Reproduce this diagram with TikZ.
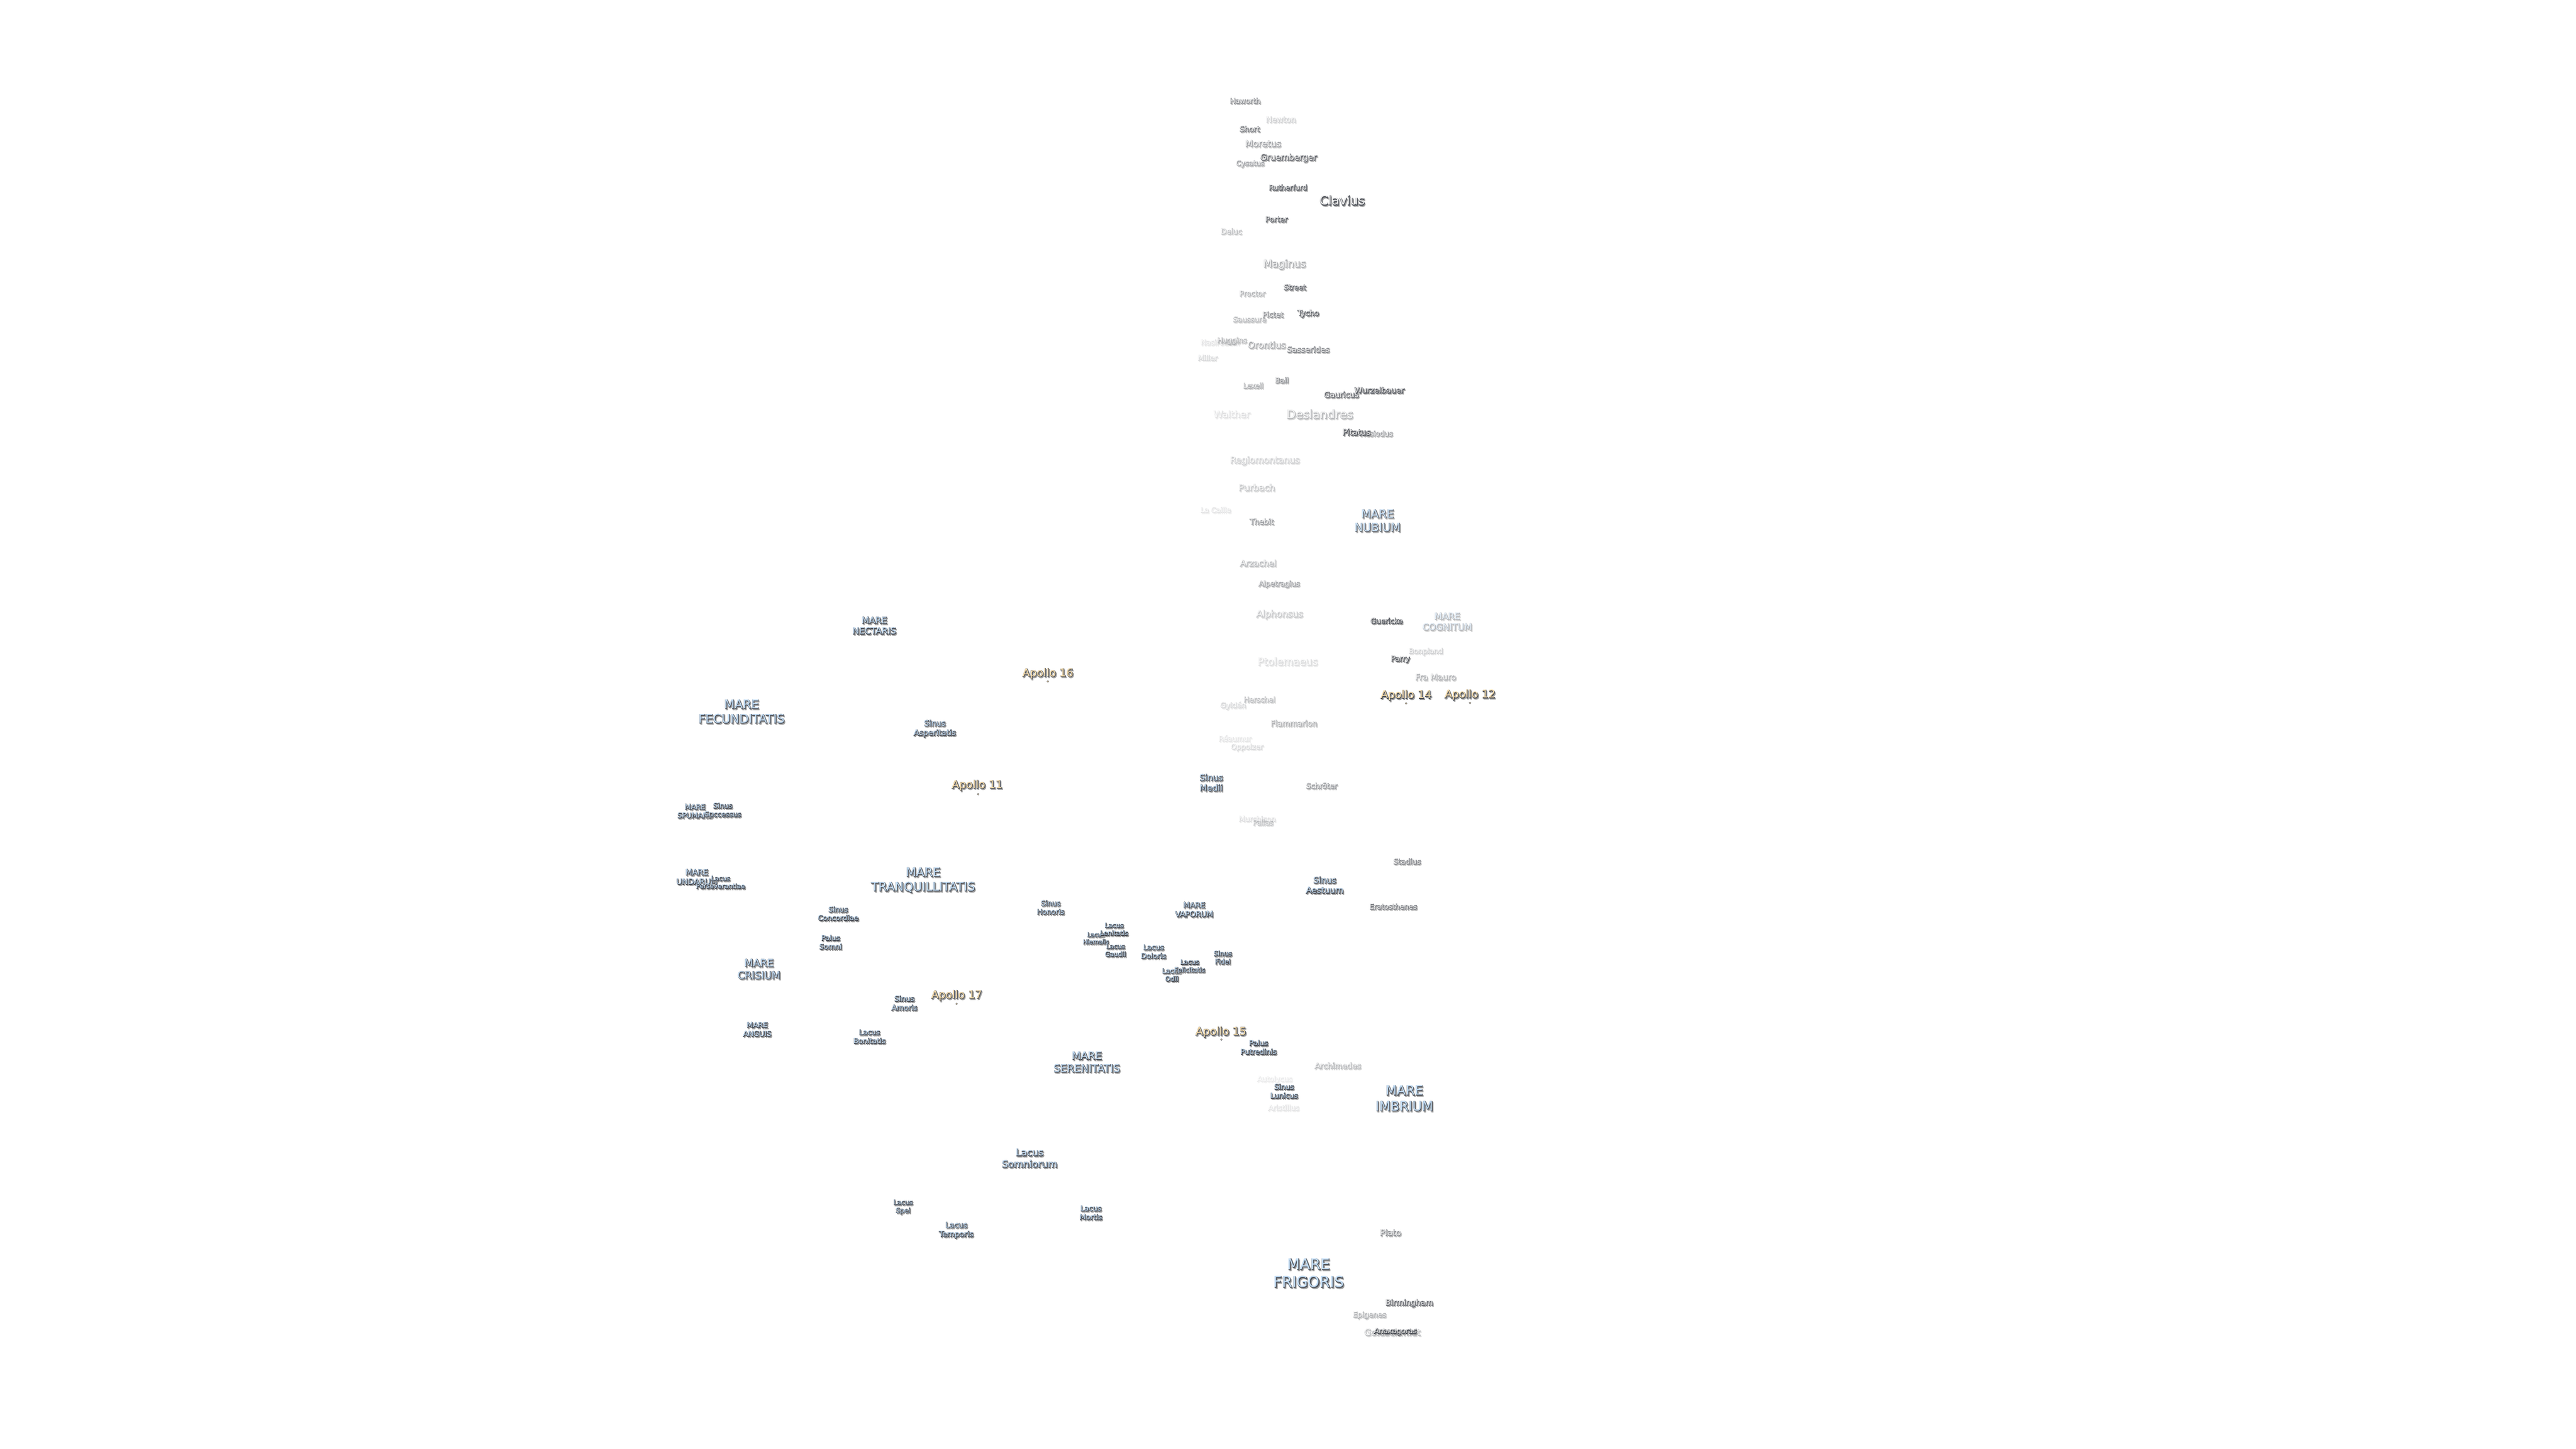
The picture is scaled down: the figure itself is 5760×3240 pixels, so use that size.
\documentclass[tikz,border=0pt]{standalone}
\usepackage{fontspec}
\setmainfont{DejaVu Sans}
\definecolor{marefill}{HTML}{C4DEF6}
\definecolor{apollofill}{HTML}{FCE0AC}
\definecolor{craterfill}{HTML}{EDEDED}
\definecolor{edgedark}{HTML}{4A4E56}
\definecolor{shadegray}{HTML}{A0A0A0}
\tikzset{
  mare/.style={text=marefill},
  apollo/.style={text=apollofill},
  crater/.style={text=craterfill},
  lunar/.style={inner sep=0pt,align=center},
  apollodot/.style={circle,inner sep=0pt,minimum size=4pt,fill=apollofill,draw=edgedark,line width=.6pt},
}
% name, x, y, size, opacity, kind, text
\newcommand{\lunarlabel}[7]{%
  \pgfmathsetmacro\lunarbold{160/#4}%
  \pgfmathsetmacro\lunaropac{pow(#5,0.8)}%
  \pgfmathsetlengthmacro\lunarskip{1.2*#4}%
  \begin{scope}[transparency group,opacity=\lunaropac]
  \node[lunar,text=shadegray,font=\fontsize{#4}{\lunarskip}\selectfont\addfontfeature{FakeBold=\lunarbold}] (#1s) at (#2+2.5,#3+1) {#7};
  \node[lunar,text=edgedark,font=\fontsize{#4}{\lunarskip}\selectfont\addfontfeature{FakeBold=\lunarbold}] (#1e) at (#2+.5,#3-1.5) {#7};
  \node[lunar,#6,font=\fontsize{#4}{\lunarskip}\selectfont] (#1) at (#2,#3-2) {#7};
  \end{scope}%
}
\begin{document}
\begin{tikzpicture}[x=1pt,y=-1pt]
\useasboundingbox (0,0) rectangle (5760,3240);
% faint craters first
\lunarlabel{newton}{2864}{269}{17.5}{.2}{crater}{Newton}
\lunarlabel{deluc}{2753}{519}{16.5}{.3}{crater}{Deluc}
\lunarlabel{nasireddin}{2728}{767}{16.2}{.12}{crater}{Nasireddin}
\lunarlabel{miller}{2700}{802}{16}{.15}{crater}{Miller}
\lunarlabel{walther}{2754}{928}{21}{.12}{crater}{Walther}
\lunarlabel{lacaille}{2718}{1142}{16}{.1}{crater}{La Caille}
\lunarlabel{reaumur}{2761}{1653}{16}{.1}{crater}{Réaumur}
\lunarlabel{oppolzer}{2788}{1673}{16}{.15}{crater}{Oppolzer}
\lunarlabel{gylden}{2757}{1580}{16.2}{.15}{crater}{Gyldén}
\lunarlabel{murchison}{2811}{1833}{16.1}{.12}{crater}{Murchison}
\lunarlabel{pallas}{2824}{1841}{15.8}{.25}{crater}{Pallas}
\lunarlabel{autolycus}{2850}{2416}{16}{.07}{crater}{Autolycus}
\lunarlabel{aristillus}{2870}{2479}{16.2}{.1}{crater}{Aristillus}
\lunarlabel{goldschmidt}{3113}{2981}{20}{.3}{crater}{Goldschmidt}
\lunarlabel{hesiodus}{3077}{971}{16}{.5}{crater}{Hesiodus}
% craters
\lunarlabel{haworth}{2784}{227}{16}{.55}{crater}{Haworth}
\lunarlabel{short}{2794}{290}{16.7}{.7}{crater}{Short}
\lunarlabel{moretus}{2824}{323}{19.8}{.45}{crater}{Moretus}
\lunarlabel{cysatus}{2795}{368}{15.9}{.45}{crater}{Cysatus}
\lunarlabel{gruemberger}{2881}{355}{18.8}{.8}{crater}{Gruemberger}
\lunarlabel{rutherfurd}{2880}{421}{15.9}{.85}{crater}{Rutherfurd}
\lunarlabel{clavius}{3001}{450}{28}{1}{crater}{Clavius}
\lunarlabel{porter}{2854}{492}{16.4}{.85}{crater}{Porter}
\lunarlabel{maginus}{2872}{593}{22.7}{.4}{crater}{Maginus}
\lunarlabel{street}{2895}{644}{16.3}{.8}{crater}{Street}
\lunarlabel{proctor}{2800}{658}{16.2}{.35}{crater}{Proctor}
\lunarlabel{saussure}{2794}{716}{16.2}{.3}{crater}{Saussure}
\lunarlabel{pictet}{2846}{705}{16.4}{.55}{crater}{Pictet}
\lunarlabel{tycho}{2925}{703}{16.8}{.9}{crater}{Tycho}
\lunarlabel{huggins}{2754.5}{764}{16.1}{.35}{crater}{Huggins}
\lunarlabel{orontius}{2832}{773}{19.9}{.4}{crater}{Orontius}
\lunarlabel{sasserides}{2925}{783}{17.7}{.6}{crater}{Sasserides}
\lunarlabel{ball}{2866}{852}{16.2}{.6}{crater}{Ball}
\lunarlabel{lexell}{2802}{864}{15.7}{.4}{crater}{Lexell}
\lunarlabel{gauricus}{2999}{884}{17.6}{.85}{crater}{Gauricus}
\lunarlabel{wurzelbauer}{3084}{874}{17.6}{.95}{crater}{Wurzelbauer}
\lunarlabel{deslandres}{2951}{928}{26.6}{.35}{crater}{Deslandres}
\lunarlabel{pitatus}{3033}{968}{18.4}{1}{crater}{Pitatus}
\lunarlabel{regiomontanus}{2828}{1032}{19.9}{.2}{crater}{Regiomontanus}
\lunarlabel{purbach}{2810}{1092}{19.9}{.25}{crater}{Purbach}
\lunarlabel{thebit}{2821}{1168}{16.8}{.5}{crater}{Thebit}
\lunarlabel{arzachel}{2813}{1261}{18.8}{.3}{crater}{Arzachel}
\lunarlabel{alpetragius}{2860}{1308}{16.1}{.45}{crater}{Alpetragius}
\lunarlabel{alphonsus}{2861}{1376}{20.2}{.25}{crater}{Alphonsus}
\lunarlabel{guericke}{3100}{1390}{16.2}{1}{crater}{Guericke}
\lunarlabel{bonpland}{3188}{1459}{16.1}{.2}{crater}{Bonpland}
\lunarlabel{parry}{3131}{1476}{16.3}{1}{crater}{Parry}
\lunarlabel{ptolemaeus}{2879}{1481}{22.9}{.15}{crater}{Ptolemaeus}
\lunarlabel{framauro}{3210}{1516}{18.4}{.35}{crater}{Fra Mauro}
\lunarlabel{herschel}{2816}{1566}{16}{.3}{crater}{Herschel}
\lunarlabel{flammarion}{2893}{1619}{17.4}{.4}{crater}{Flammarion}
\lunarlabel{schroter}{2955}{1759}{16.4}{.5}{crater}{Schröter}
\lunarlabel{stadius}{3146}{1928}{16.5}{.65}{crater}{Stadius}
\lunarlabel{eratosthenes}{3115}{2029}{16.1}{.7}{crater}{Eratosthenes}
\lunarlabel{archimedes}{2991}{2385}{17.5}{.35}{crater}{Archimedes}
\lunarlabel{plato}{3109}{2758}{18.9}{.6}{crater}{Plato}
\lunarlabel{birmingham}{3151}{2916}{17.4}{.8}{crater}{Birmingham}
\lunarlabel{epigenes}{3062}{2943}{16.2}{.35}{crater}{Epigenes}
\lunarlabel{anaxagoras}{3120}{2980}{16.1}{1}{crater}{Anaxagoras}
% maria, lakes, bays
\lunarlabel{nubium}{3080}{1166}{25.4}{.85}{mare}{MARE\\NUBIUM}
\lunarlabel{cognitum}{3236}{1392}{20.1}{.35}{mare}{MARE\\COGNITUM}
\lunarlabel{medii}{2708}{1752}{19.2}{1}{mare}{Sinus\\Medii}
\lunarlabel{aestuum}{2962}{1981}{18.9}{1}{mare}{Sinus\\Aestuum}
\lunarlabel{vaporum}{2670}{2036}{17}{1}{mare}{MARE\\VAPORUM}
\lunarlabel{fidei}{2734}{2143}{15}{1}{mare}{Sinus\\Fidei}
\lunarlabel{odii}{2620}{2182}{15}{1}{mare}{Lacus\\Odii}
\lunarlabel{felicitatis}{2660}{2162}{14.5}{1}{mare}{Lacus\\Felicitatis}
\lunarlabel{honoris}{2349}{2031}{16}{1}{mare}{Sinus\\Honoris}
\lunarlabel{hiemalis}{2450}{2100}{13.3}{1}{mare}{Lacus\\Hiemalis}
\lunarlabel{lenitatis}{2491}{2080}{14.6}{1}{mare}{Lacus\\Lenitatis}
\lunarlabel{gaudii}{2494}{2127}{14.5}{1}{mare}{Lacus\\Gaudii}
\lunarlabel{doloris}{2579}{2130}{16.1}{1}{mare}{Lacus\\Doloris}
\lunarlabel{putredinis}{2814}{2344}{16.2}{1}{mare}{Palus\\Putredinis}
\lunarlabel{lunicus}{2871}{2442}{16.2}{1}{mare}{Sinus\\Lunicus}
\lunarlabel{imbrium}{3140}{2458}{29.2}{1}{mare}{MARE\\IMBRIUM}
\lunarlabel{frigoris}{2926}{2849}{33.2}{1}{mare}{MARE\\FRIGORIS}
\lunarlabel{nectaris}{1955}{1401}{19.8}{1}{mare}{MARE\\NECTARIS}
\lunarlabel{fecunditatis}{1658}{1593}{27}{1}{mare}{MARE\\FECUNDITATIS}
\lunarlabel{asperitatis}{2090}{1631}{17.6}{1}{mare}{Sinus\\Asperitatis}
\lunarlabel{spumans}{1554}{1816}{16}{1}{mare}{MARE\\SPUMANS}
\lunarlabel{successus}{1616}{1813}{15.8}{1}{mare}{Sinus\\Successus}
\lunarlabel{undarum}{1558}{1963}{17.6}{1}{mare}{MARE\\UNDARUM}
\lunarlabel{perseverantiae}{1611}{1975}{14.6}{1}{mare}{Lacus\\Perseverantiae}
\lunarlabel{tranquillitatis}{2064}{1970}{27}{1}{mare}{MARE\\TRANQUILLITATIS}
\lunarlabel{concordiae}{1874}{2045}{16}{1}{mare}{Sinus\\Concordiae}
\lunarlabel{somni}{1857}{2109}{16}{1}{mare}{Palus\\Somni}
\lunarlabel{crisium}{1697}{2169}{22.8}{1}{mare}{MARE\\CRISIUM}
\lunarlabel{amoris}{2022}{2245}{16.5}{1}{mare}{Sinus\\Amoris}
\lunarlabel{anguis}{1693}{2304}{16.3}{1}{mare}{MARE\\ANGUIS}
\lunarlabel{bonitatis}{1944}{2320}{16.2}{1}{mare}{Lacus\\Bonitatis}
\lunarlabel{serenitatis}{2430}{2377}{23.5}{1}{mare}{MARE\\SERENITATIS}
\lunarlabel{somniorum}{2302}{2592}{21.5}{1}{mare}{Lacus\\Somniorum}
\lunarlabel{spei}{2019}{2701}{15}{1}{mare}{Lacus\\Spei}
\lunarlabel{temporis}{2138}{2753}{17.1}{1}{mare}{Lacus\\Temporis}
\lunarlabel{mortis}{2439}{2714}{16.4}{1}{mare}{Lacus\\Mortis}
% landing sites
\lunarlabel{apollo11}{2185}{1758}{24.2}{1}{apollo}{Apollo 11}
\lunarlabel{apollo12}{3287}{1556}{24.2}{1}{apollo}{Apollo 12}
\lunarlabel{apollo14}{3144}{1557}{24.2}{1}{apollo}{Apollo 14}
\lunarlabel{apollo15}{2730}{2310}{24.2}{1}{apollo}{Apollo 15}
\lunarlabel{apollo16}{2343}{1508}{24.2}{1}{apollo}{Apollo 16}
\lunarlabel{apollo17}{2139}{2228}{24.2}{1}{apollo}{Apollo 17}
\node[apollodot] (dot11) at (2187,1776) {};
\node[apollodot] (dot12) at (3287,1572) {};
\node[apollodot] (dot14) at (3144,1573) {};
\node[apollodot] (dot15) at (2731,2325) {};
\node[apollodot] (dot16) at (2343,1524) {};
\node[apollodot] (dot17) at (2139,2245) {};
\end{tikzpicture}
\end{document}
